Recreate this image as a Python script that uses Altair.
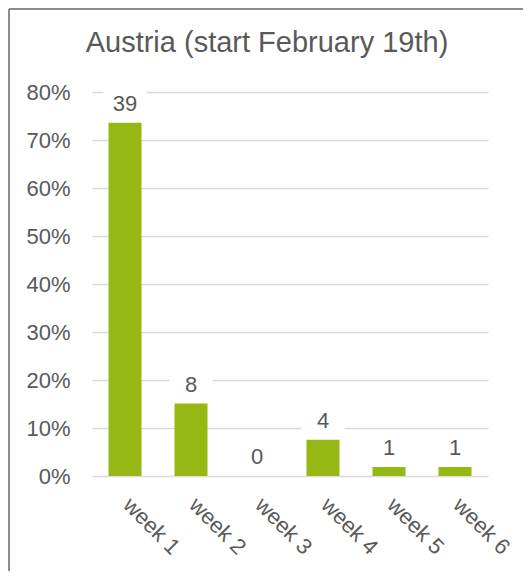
import altair as alt
import pandas as pd

weeks = ["week 1", "week 2", "week 3", "week 4", "week 5", "week 6"]
counts = [39, 8, 0, 4, 1, 1]
title_text = "Austria (start February 19th)"

df = pd.DataFrame({"week": weeks, "count": counts})

TXT = "#595959"
FONT = "Liberation Sans"
GREEN = "#95b814"

base = alt.Chart(df).transform_joinaggregate(
    total="sum(count)"
).transform_calculate(
    pct="datum.count / datum.total"
)

x = alt.X("week:N", sort=weeks, title=None,
          scale=alt.Scale(paddingInner=0.5, paddingOuter=0.25),
          axis=alt.Axis(labelAngle=45, labelFontSize=22, labelColor=TXT, labelFont=FONT,
                        ticks=False, domain=False, grid=False, labelPadding=18,
                        labelOffset=9))
y = alt.Y("pct:Q", title=None,
          scale=alt.Scale(domain=[0, 0.8]),
          axis=alt.Axis(format=".0%", values=[0, 0.1, 0.2, 0.3, 0.4, 0.5, 0.6, 0.7, 0.8],
                        labelFontSize=22, labelColor=TXT, labelFont=FONT,
                        ticks=False, domain=False, labelPadding=22,
                        gridColor="#d9d9d9", gridWidth=1.5))

bars = base.mark_bar(color=GREEN).encode(x=x, y=y)

boxes = base.mark_point(
    shape="M-1,-0.62H1V0.62H-1Z", filled=True, fill="white", opacity=1,
    size=1849, yOffset=-20, strokeWidth=0
).encode(x=alt.X("week:N", sort=weeks), y="pct:Q")

labels = base.mark_text(
    fontSize=22, color=TXT, font=FONT, baseline="alphabetic", dy=-12
).encode(x=alt.X("week:N", sort=weeks), y="pct:Q", text="count:Q")

frame_left = alt.Chart(df).mark_rule(color="#8c8c8c", strokeWidth=2).encode(
    x=alt.value(-83), y=alt.value(-83), y2=alt.value(500)
)
frame_top = alt.Chart(df).mark_rule(color="#8c8c8c", strokeWidth=2).encode(
    x=alt.value(-83), x2=alt.value(440), y=alt.value(-83)
)

chart = alt.layer(bars, boxes, labels, frame_left, frame_top).properties(
    width=396, height=384,
    title=alt.Title(title_text, fontSize=29, color=TXT, font=FONT, fontWeight="normal",
                    anchor="middle", frame="group", dx=-23, dy=50, offset=0),
    autosize=alt.AutoSizeParams(type="none"),
    padding={"left": 84, "top": 84, "right": 35, "bottom": 95},
).configure(background="white").configure_view(stroke=None)

chart.save("out.html", embed_options={"renderer": "svg", "actions": False})
